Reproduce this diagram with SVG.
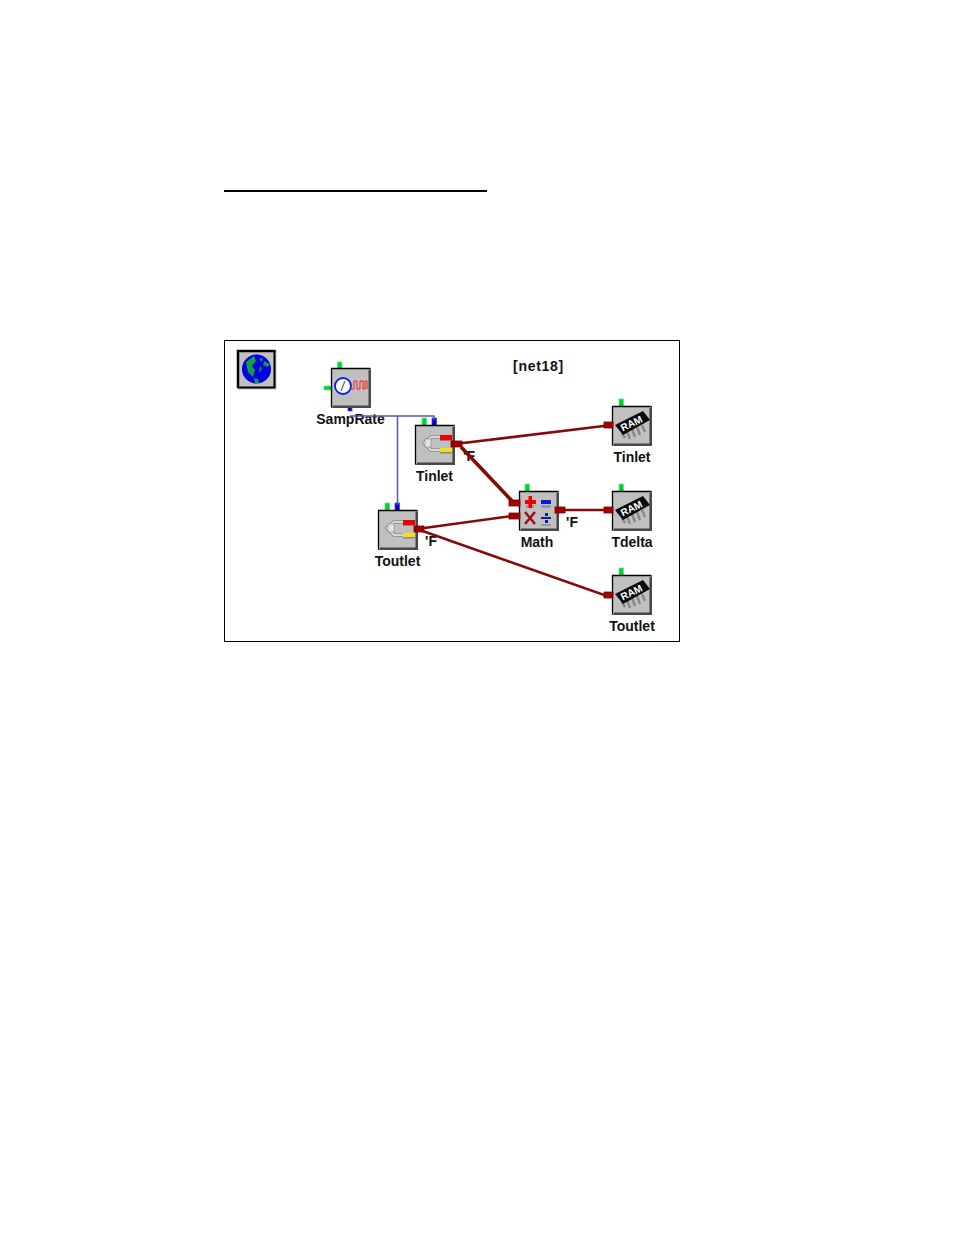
<svg xmlns="http://www.w3.org/2000/svg" width="954" height="1235" viewBox="0 0 954 1235">
<style>
text{font-family:"Liberation Sans",Arial,sans-serif;font-weight:bold;font-size:14px;fill:#111;text-anchor:middle}
.box{fill:#c0c0c0;stroke:#555;stroke-width:1}
.edge{fill:none;stroke:#000;stroke-width:1.300}
.g{fill:#00d030;stroke:#70e080;stroke-width:.8}
.b{fill:#0000c8;stroke:#4a4ad0;stroke-width:.8}
.r{fill:#a00000;stroke:#7a0000;stroke-width:.8}
.wire{fill:none;stroke:#850a0a}
.blue{fill:none;stroke:#5858b0;stroke-width:1.500}
</style>
<defs>
<g id="base">
<rect class="box" x="0.5" y="0.5" width="39" height="39"/>
<path d="M38.500 2V38.500H2" fill="none" stroke="#444" stroke-width="2"/>
<path d="M0.500 39V0.500H39" class="edge"/>
</g>
<g id="ram">
<use href="#base"/>
<path d="M10 27L13 32M15 25L18 33M20 23L23 31M25 21L28 29M30 19L33 26" stroke="#8a8a8a" stroke-width="2.500"/>
<path d="M3 19L31 5L38 14L11 29Z" fill="#0a0a0a"/>
<text x="0" y="0" transform="translate(21,20.500) rotate(-26)" style="font-size:10px;fill:#fff">RAM</text>
</g>
<g id="plug">
<use href="#base"/>
<path d="M25 12H16L9 18L16 25H25" fill="none" stroke="#8c8c8c" stroke-width="3.500"/>
<path d="M25 12H16L9 18L16 25H25" fill="none" stroke="#eee" stroke-width="1.500"/>
<rect x="10" y="14" width="6" height="8" fill="#e4e4e4" stroke="#888" stroke-width=".6"/>
<rect x="25" y="10" width="12" height="5" fill="#f00000"/>
<rect x="25" y="15" width="12" height="1" fill="#888"/>
<rect x="25" y="23" width="12" height="4" fill="#f0e020"/>
<rect x="25" y="27" width="12" height="1.500" fill="#888"/>
</g>
</defs>

<rect x="224" y="190" width="263" height="2" fill="#000"/>
<rect x="224.500" y="340.500" width="455" height="301" fill="#fff" stroke="#000"/>

<g id="globe">
<rect x="237" y="350" width="39.500" height="39.500" fill="#c0c0c0"/>
<path d="M238 388V351H275.500" fill="none" stroke="#000" stroke-width="2.500"/>
<path d="M274.500 351V387.500H238" fill="none" stroke="#000" stroke-width="2"/>
<circle cx="256.500" cy="369" r="14.500" fill="#0000e0"/>
<path d="M246 362L254 356L256 361L252 366L255 370L253 377L248 372ZM254 378L258 379L259 383L255 383ZM259 359L263 358L262 362ZM264 361L270 364L268 367L263 365ZM260 366L262 369L259 373Z" fill="#10a040"/>
</g>

<g id="n-samprate">
<rect class="g" x="337.500" y="362" width="4.500" height="7"/>
<rect class="g" x="324" y="386" width="8" height="4"/>
<rect class="b" x="348" y="407" width="4" height="4"/>
<use href="#base" x="331" y="368"/>
<circle cx="343" cy="386" r="8" fill="#fff" stroke="#0020e8" stroke-width="1.800"/>
<path d="M343 386L345 381M343 386L341 391" stroke="#666" stroke-width="1.200"/>
<path d="M351 389H354V381H357V389H360V381H363V389H365V381H367V389" fill="none" stroke="#f02020" stroke-width="1"/>
<text x="350.500" y="424">SampRate</text>
</g>

<g id="n-tinlet">
<rect class="g" x="422" y="418" width="4.500" height="8"/>
<rect class="b" x="432" y="418" width="4.500" height="8"/>
<use href="#plug" x="415" y="425"/>
<text x="434.500" y="481">Tinlet</text>
<text x="469" y="461">'F</text>
</g>

<g id="n-toutlet">
<rect class="g" x="385" y="503" width="4.500" height="8"/>
<rect class="b" x="395" y="503" width="4.500" height="8"/>
<use href="#plug" x="378" y="510"/>
<text x="397.500" y="566">Toutlet</text>
<text x="431" y="546">'F</text>
</g>

<g id="n-math">
<rect class="g" x="525" y="484" width="4.500" height="8"/>
<use href="#base" x="519" y="491"/>
<rect x="526" y="505" width="8" height="3" fill="#999"/>
<path d="M528.500 496H532V500H536V504H532V508H528.500V504H525V500H528.500Z" fill="#f00000"/>
<path d="M525 512L535 524M535 512L525 524" stroke="#a01010" stroke-width="2.500"/>
<rect x="541" y="500" width="10" height="4" fill="#0020e0"/>
<rect x="541" y="505" width="10" height="3" fill="#999"/>
<rect x="541" y="517" width="10" height="2" fill="#0020a0"/>
<rect x="545" y="513" width="3" height="3" fill="#0020a0"/>
<rect x="545" y="520" width="3" height="3" fill="#0020a0"/>
<rect x="541" y="524" width="10" height="2" fill="#999"/>
<text x="537" y="547">Math</text>
<text x="572" y="527">'F</text>
</g>

<g id="n-ram-tinlet">
<rect class="g" x="619" y="399" width="4.500" height="8"/>
<use href="#ram" x="612" y="406"/>
<text x="632" y="462">Tinlet</text>
</g>

<g id="n-ram-tdelta">
<rect class="g" x="619" y="484" width="4.500" height="8"/>
<use href="#ram" x="612" y="491"/>
<text x="632" y="547">Tdelta</text>
</g>

<g id="n-ram-toutlet">
<rect class="g" x="619" y="568" width="4.500" height="8"/>
<use href="#ram" x="612" y="575"/>
<text x="632" y="631">Toutlet</text>
</g>

<g id="connectors">
<path class="blue" d="M350 416H434V420M397.500 416V505"/>
<path class="wire" stroke-width="2.600" d="M455 444L612 425"/>
<path class="wire" stroke-width="3.600" d="M461 447L514 503"/>
<path class="wire" stroke-width="2.600" d="M417 529L512 516"/>
<path class="wire" stroke-width="2.600" d="M558 510H612"/>
<path class="wire" stroke-width="2.600" d="M417 529L604 595H612"/>
<rect class="r" x="451" y="441" width="11" height="6"/>
<rect class="r" x="414" y="526" width="10" height="6"/>
<rect class="r" x="509" y="500" width="11" height="6"/>
<rect class="r" x="509" y="513" width="11" height="6"/>
<rect class="r" x="555" y="507" width="10" height="6"/>
<rect class="r" x="604" y="422" width="9" height="6"/>
<rect class="r" x="604" y="507" width="9" height="6"/>
<rect class="r" x="604" y="592" width="9" height="6"/>
</g>

<text x="538.500" y="371" style="letter-spacing:.7px">[net18]</text>
</svg>
